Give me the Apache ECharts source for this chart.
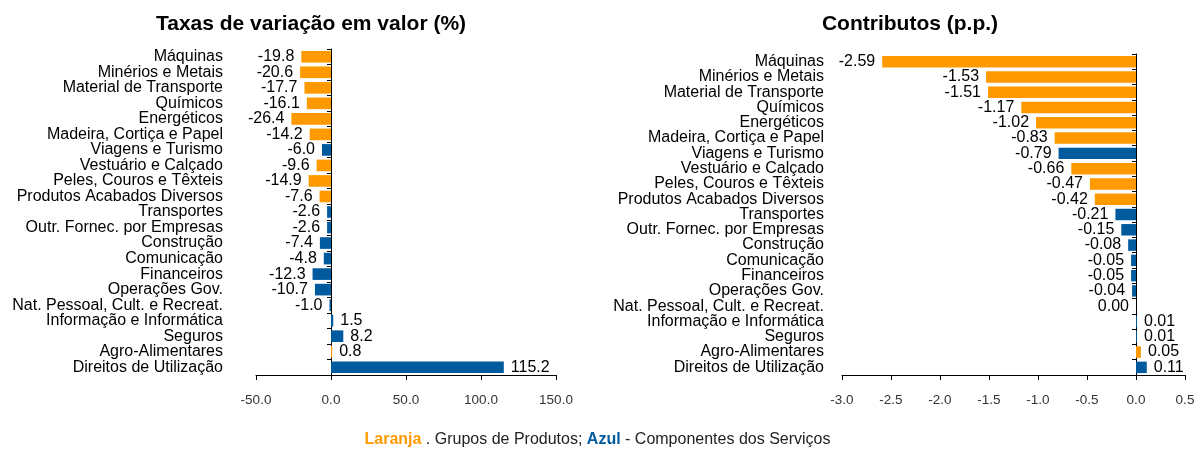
<!DOCTYPE html>
<html><head><meta charset="utf-8">
<script src="https://cdn.jsdelivr.net/npm/echarts@6/dist/echarts.min.js"></script>
<style>html,body{margin:0;padding:0;background:#fff}#c{width:1195px;height:450px}</style>
</head><body><div id="c"></div>
<script>
const categories = ["Máquinas","Minérios e Metais","Material de Transporte","Químicos","Energéticos","Madeira, Cortiça e Papel","Viagens e Turismo","Vestuário e Calçado","Peles, Couros e Têxteis","Produtos Acabados Diversos","Transportes","Outr. Fornec. por Empresas","Construção","Comunicação","Financeiros","Operações Gov.","Nat. Pessoal, Cult. e Recreat.","Informação e Informática","Seguros","Agro-Alimentares","Direitos de Utilização"];
// P = Grupos de Produtos (laranja), S = Componentes dos Serviços (azul)
const groups = ["P","P","P","P","P","P","S","P","P","P","S","S","S","S","S","S","S","S","S","P","S"];
const taxas = [-19.8,-20.6,-17.7,-16.1,-26.4,-14.2,-6.0,-9.6,-14.9,-7.6,-2.6,-2.6,-7.4,-4.8,-12.3,-10.7,-1.0,1.5,8.2,0.8,115.2];
const contributos = [-2.59,-1.53,-1.51,-1.17,-1.02,-0.83,-0.79,-0.66,-0.47,-0.42,-0.21,-0.15,-0.08,-0.05,-0.05,-0.04,0.00,0.01,0.01,0.05,0.11];
const taxasTicks = {min:-50, max:150, interval:50};
const contribTicks = {min:-3, max:0.5, interval:0.5};

const ORANGE = "#FF9900", BLUE = "#005A9E";
const FONT = "Liberation Sans, Arial, sans-serif";
function items(vals){
  return vals.map((v,i)=>({
    value: v,
    itemStyle:{color: groups[i]==="P"?ORANGE:BLUE},
    label:{position: v<=0?"left":"right"}
  }));
}
const chart = echarts.init(document.getElementById('c'));
function xAx(idx, t, dec){
  return {type:'value', gridIndex:idx, min:t.min, max:t.max, interval:t.interval,
    axisLine:{show:true, onZero:false, lineStyle:{color:'#000', width:1}},
    axisTick:{show:true, length:5, lineStyle:{color:'#000'}},
    splitLine:{show:false},
    axisLabel:{formatter:v=>v.toFixed(dec), color:'#333', fontSize:13.5, fontFamily:FONT, margin:18}};
}
function yAx(idx, margin){
  return {type:'category', gridIndex:idx, data:categories, inverse:true,
    axisLine:{show:true, onZero:true, lineStyle:{color:'#000', width:1}},
    axisTick:{show:true, length:4, lineStyle:{color:'#000'}},
    axisLabel:{interval:0, color:'#000', fontSize:16, lineHeight:16, fontFamily:FONT, margin:margin}};
}
chart.setOption({
  animation:false,
  title:[
    {text:'Taxas de variação em valor (%)', left:306, top:9, textAlign:'center',
      textStyle:{fontSize:21, fontWeight:'bold', color:'#000', fontFamily:FONT}},
    {text:'Contributos (p.p.)', left:905, top:9, textAlign:'center',
      textStyle:{fontSize:21, fontWeight:'bold', color:'#000', fontFamily:FONT}}
  ],
  grid:[
    {left:256, right:639, top:49, bottom:75, containLabel:false, outerBoundsMode:'none'},
    {left:842, right:10, top:54, bottom:75, containLabel:false, outerBoundsMode:'none'}
  ],
  xAxis:[xAx(0,taxasTicks,1), xAx(1,contribTicks,1)],
  yAxis:[yAx(0,33), yAx(1,18)],
  series:[
    {type:'bar', xAxisIndex:0, yAxisIndex:0, data:items(taxas), barCategoryGap:'25%',
      label:{show:true, distance:7, color:'#000', fontSize:16, fontFamily:FONT, formatter:p=>p.value.toFixed(1)}},
    {type:'bar', xAxisIndex:1, yAxisIndex:1, data:items(contributos), barCategoryGap:'25%',
      label:{show:true, distance:7, color:'#000', fontSize:16, fontFamily:FONT, formatter:p=>p.value.toFixed(2)}}
  ],
  graphic:[{type:'text', left:'center', top:432,
    style:{text:'{o|Laranja} . Grupos de Produtos; {b|Azul} - Componentes dos Serviços',
      fontSize:16, fontFamily:FONT, fill:'#222',
      rich:{o:{fill:ORANGE, fontWeight:'bold', fontSize:16, fontFamily:FONT},
            b:{fill:BLUE, fontWeight:'bold', fontSize:16, fontFamily:FONT}}}}]
});
</script></body></html>
